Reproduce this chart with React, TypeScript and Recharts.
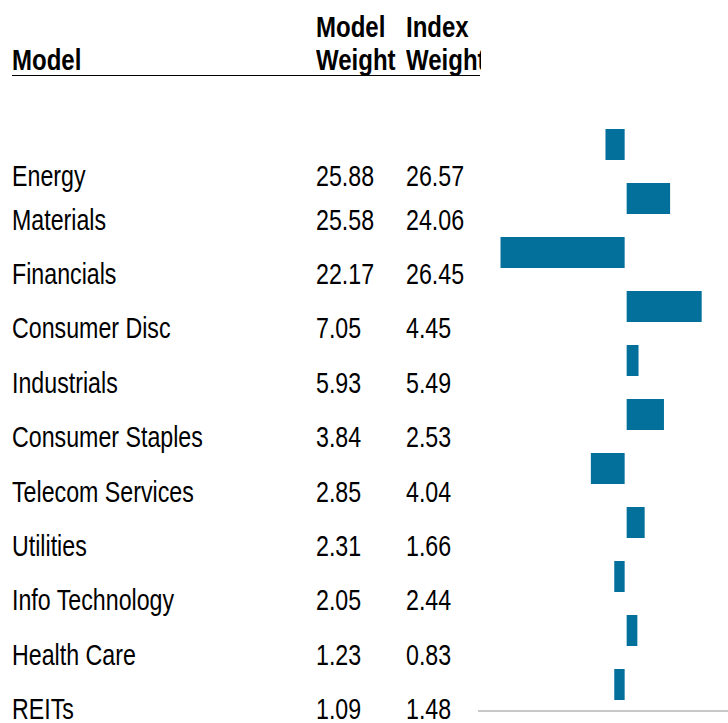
import { BarChart, Bar, XAxis, YAxis, ReferenceLine } from 'recharts';

const sectors = [
  'Energy', 'Materials', 'Financials', 'Consumer Disc', 'Industrials', 'Consumer Staples',
  'Telecom Services', 'Utilities', 'Info Technology', 'Health Care', 'REITs',
];
const modelWeights = [25.88, 25.58, 22.17, 7.05, 5.93, 3.84, 2.85, 2.31, 2.05, 1.23, 1.09];
const indexWeights = [26.57, 24.06, 26.45, 4.45, 5.49, 2.53, 4.04, 1.66, 2.44, 0.83, 1.48];

const chartData = sectors.map((name, i) => ({
  name,
  active: +(modelWeights[i] - indexWeights[i]).toFixed(2),
}));

const BLUE = '#03709b';
const FONT = '"Liberation Sans", Arial, Helvetica, sans-serif';

// narrow-looking text: regular sans squeezed horizontally
const Txt = ({ x, y, bold, children }: { x: number; y: number; bold?: boolean; children: any }) => (
  <div style={{
    position: 'absolute', left: x, top: y - 17, height: 34, lineHeight: '34px',
    fontSize: bold ? 30 : 29, fontWeight: bold ? 700 : 400, color: '#000', whiteSpace: 'nowrap',
    transform: 'scaleX(0.8)', transformOrigin: '0 50%',
  }}>{children}</div>
);

const rowY = (i: number) => (i === 0 ? 176 : 219.5 + 54.4 * (i - 1));

export default function App() {
  return (
    <div style={{ position: 'absolute', left: 0, top: 0, width: 728, height: 723, background: '#fff', fontFamily: FONT, overflow: 'hidden' }}>
      <div style={{ position: 'absolute', left: 0, top: 0, width: 481, height: 723, overflow: 'hidden' }}>
        <Txt x={316} y={27} bold>Model</Txt>
        <Txt x={406} y={27} bold>Index</Txt>
        <Txt x={12} y={60} bold>Model</Txt>
        <Txt x={316} y={60} bold>Weight</Txt>
        <Txt x={406} y={60} bold>Weight</Txt>
        <div style={{ position: 'absolute', left: 12, top: 75, width: 468, height: 1, background: '#000' }} />
        {sectors.map((s, i) => (
          <div key={s}>
            <Txt x={12} y={rowY(i)}>{s}</Txt>
            <Txt x={316} y={rowY(i)}>{modelWeights[i].toFixed(2)}</Txt>
            <Txt x={406} y={rowY(i)}>{indexWeights[i].toFixed(2)}</Txt>
          </div>
        ))}
      </div>
      <div style={{ position: 'absolute', left: 478, top: 117 }}>
        <BarChart width={250} height={610} data={chartData} layout="vertical" margin={{ top: 0, right: 0, left: 0, bottom: 0 }}>
          <XAxis type="number" domain={[-5.05, 3.5]} allowDataOverflow tick={false} tickLine={false} height={16}
            axisLine={{ stroke: '#c8c8c8', strokeWidth: 2 }} />
          <YAxis type="category" dataKey="name" hide />
          <Bar dataKey="active" fill={BLUE} barSize={31} isAnimationActive={false} />
          <ReferenceLine x={0} stroke="#fff" strokeWidth={2} />
        </BarChart>
      </div>
    </div>
  );
}
